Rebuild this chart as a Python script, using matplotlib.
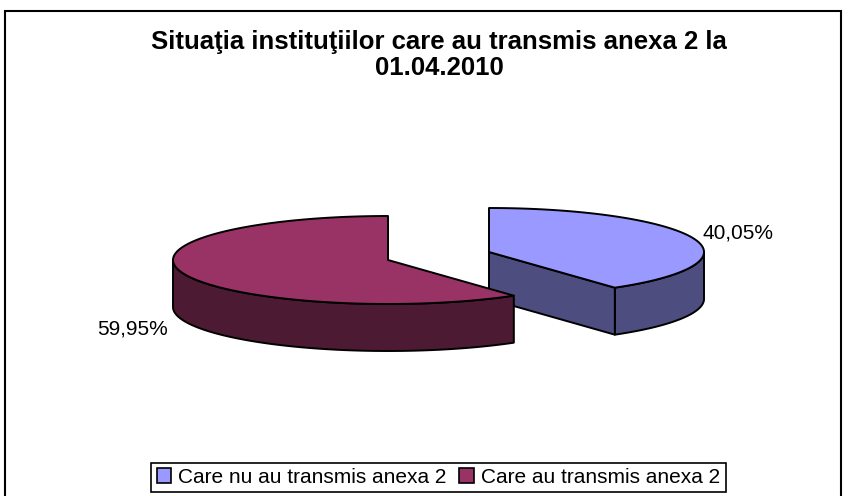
import numpy as np
import matplotlib
matplotlib.use('Agg')
import matplotlib.pyplot as plt
from matplotlib.patches import Polygon, Rectangle, Patch

plt.rcParams['font.family'] = ['Liberation Sans', 'DejaVu Sans']

title = "Situaţia instituţiilor care au transmis anexa 2 la\n01.04.2010"
categories = ["Care nu au transmis anexa 2", "Care au transmis anexa 2"]
shares = [40.05, 59.95]
top_colors = ['#9999FF', '#993366']
side_colors = ['#4D4D80', '#4D1A33']

RX, RY, DEPTH = 215, 44, 47
LW = 1.4


def arc(cx, cy, a0, a1, n=120):
    """Projected pie rim, angles clockwise from 12 o'clock."""
    t = np.radians(np.linspace(a0, a1, n))
    return np.column_stack([cx + RX * np.sin(t), cy - RY * np.cos(t)])


def draw_slice(ax, cx, cy, a0, a1, top, side, cut_face):
    down = np.array([0, DEPTH])
    # outer wall: only the part of the rim facing the viewer
    v0, v1 = max(a0, 90), min(a1, 270)
    if v1 > v0:
        rim = arc(cx, cy, v0, v1)
        wall = np.vstack([rim, rim[::-1] + down])
        ax.add_patch(Polygon(wall, fc=side, ec='black', lw=LW, joinstyle='round'))
    if cut_face:
        apex = np.array([cx, cy])
        end = arc(cx, cy, a1, a1, 1)[0]
        ax.add_patch(Polygon([apex, end, end + down, apex + down],
                             fc=side, ec='black', lw=LW, joinstyle='round'))
    face = np.vstack([[cx, cy], arc(cx, cy, a0, a1)])
    ax.add_patch(Polygon(face, fc=top, ec='black', lw=LW, joinstyle='round'))


fig = plt.figure(figsize=(8.53, 4.96), dpi=100)
ax = fig.add_axes([0, 0, 1, 1])
ax.set_xlim(0, 853)
ax.set_ylim(496, 0)
ax.axis('off')

# chart frame
ax.add_patch(Rectangle((5, 11), 836, 490, fc='white', ec='black', lw=1.5))

split = shares[0] / sum(shares) * 360

# blue slice first, the maroon one overlaps it
draw_slice(ax, 489, 252, 0, split, top_colors[0], side_colors[0], True)
draw_slice(ax, 388, 260, split, 360, top_colors[1], side_colors[1], False)

ax.text(439, 75, title, ha='center', va='baseline', fontsize=18.5, fontweight='bold',
        linespacing=1.1, color='black')

ax.text(738, 233, f"{shares[0]:.2f}%".replace('.', ','), ha='center', va='center',
        fontsize=15, color='black')
ax.text(133, 329, f"{shares[1]:.2f}%".replace('.', ','), ha='center', va='center',
        fontsize=15, color='black')

handles = [Patch(fc=c, ec='black', lw=1.2) for c in top_colors]
leg = ax.legend(handles, categories, ncol=2, loc='center', bbox_to_anchor=(438.5, 477.5),
                bbox_transform=ax.transData, frameon=True, fancybox=False, edgecolor='black',
                framealpha=1, fontsize=15, handlelength=0.7, handleheight=0.7,
                handletextpad=0.35, columnspacing=0.6, borderpad=0.25, borderaxespad=0)
leg.get_frame().set_linewidth(1.2)

fig.savefig('out.png', dpi=100)
